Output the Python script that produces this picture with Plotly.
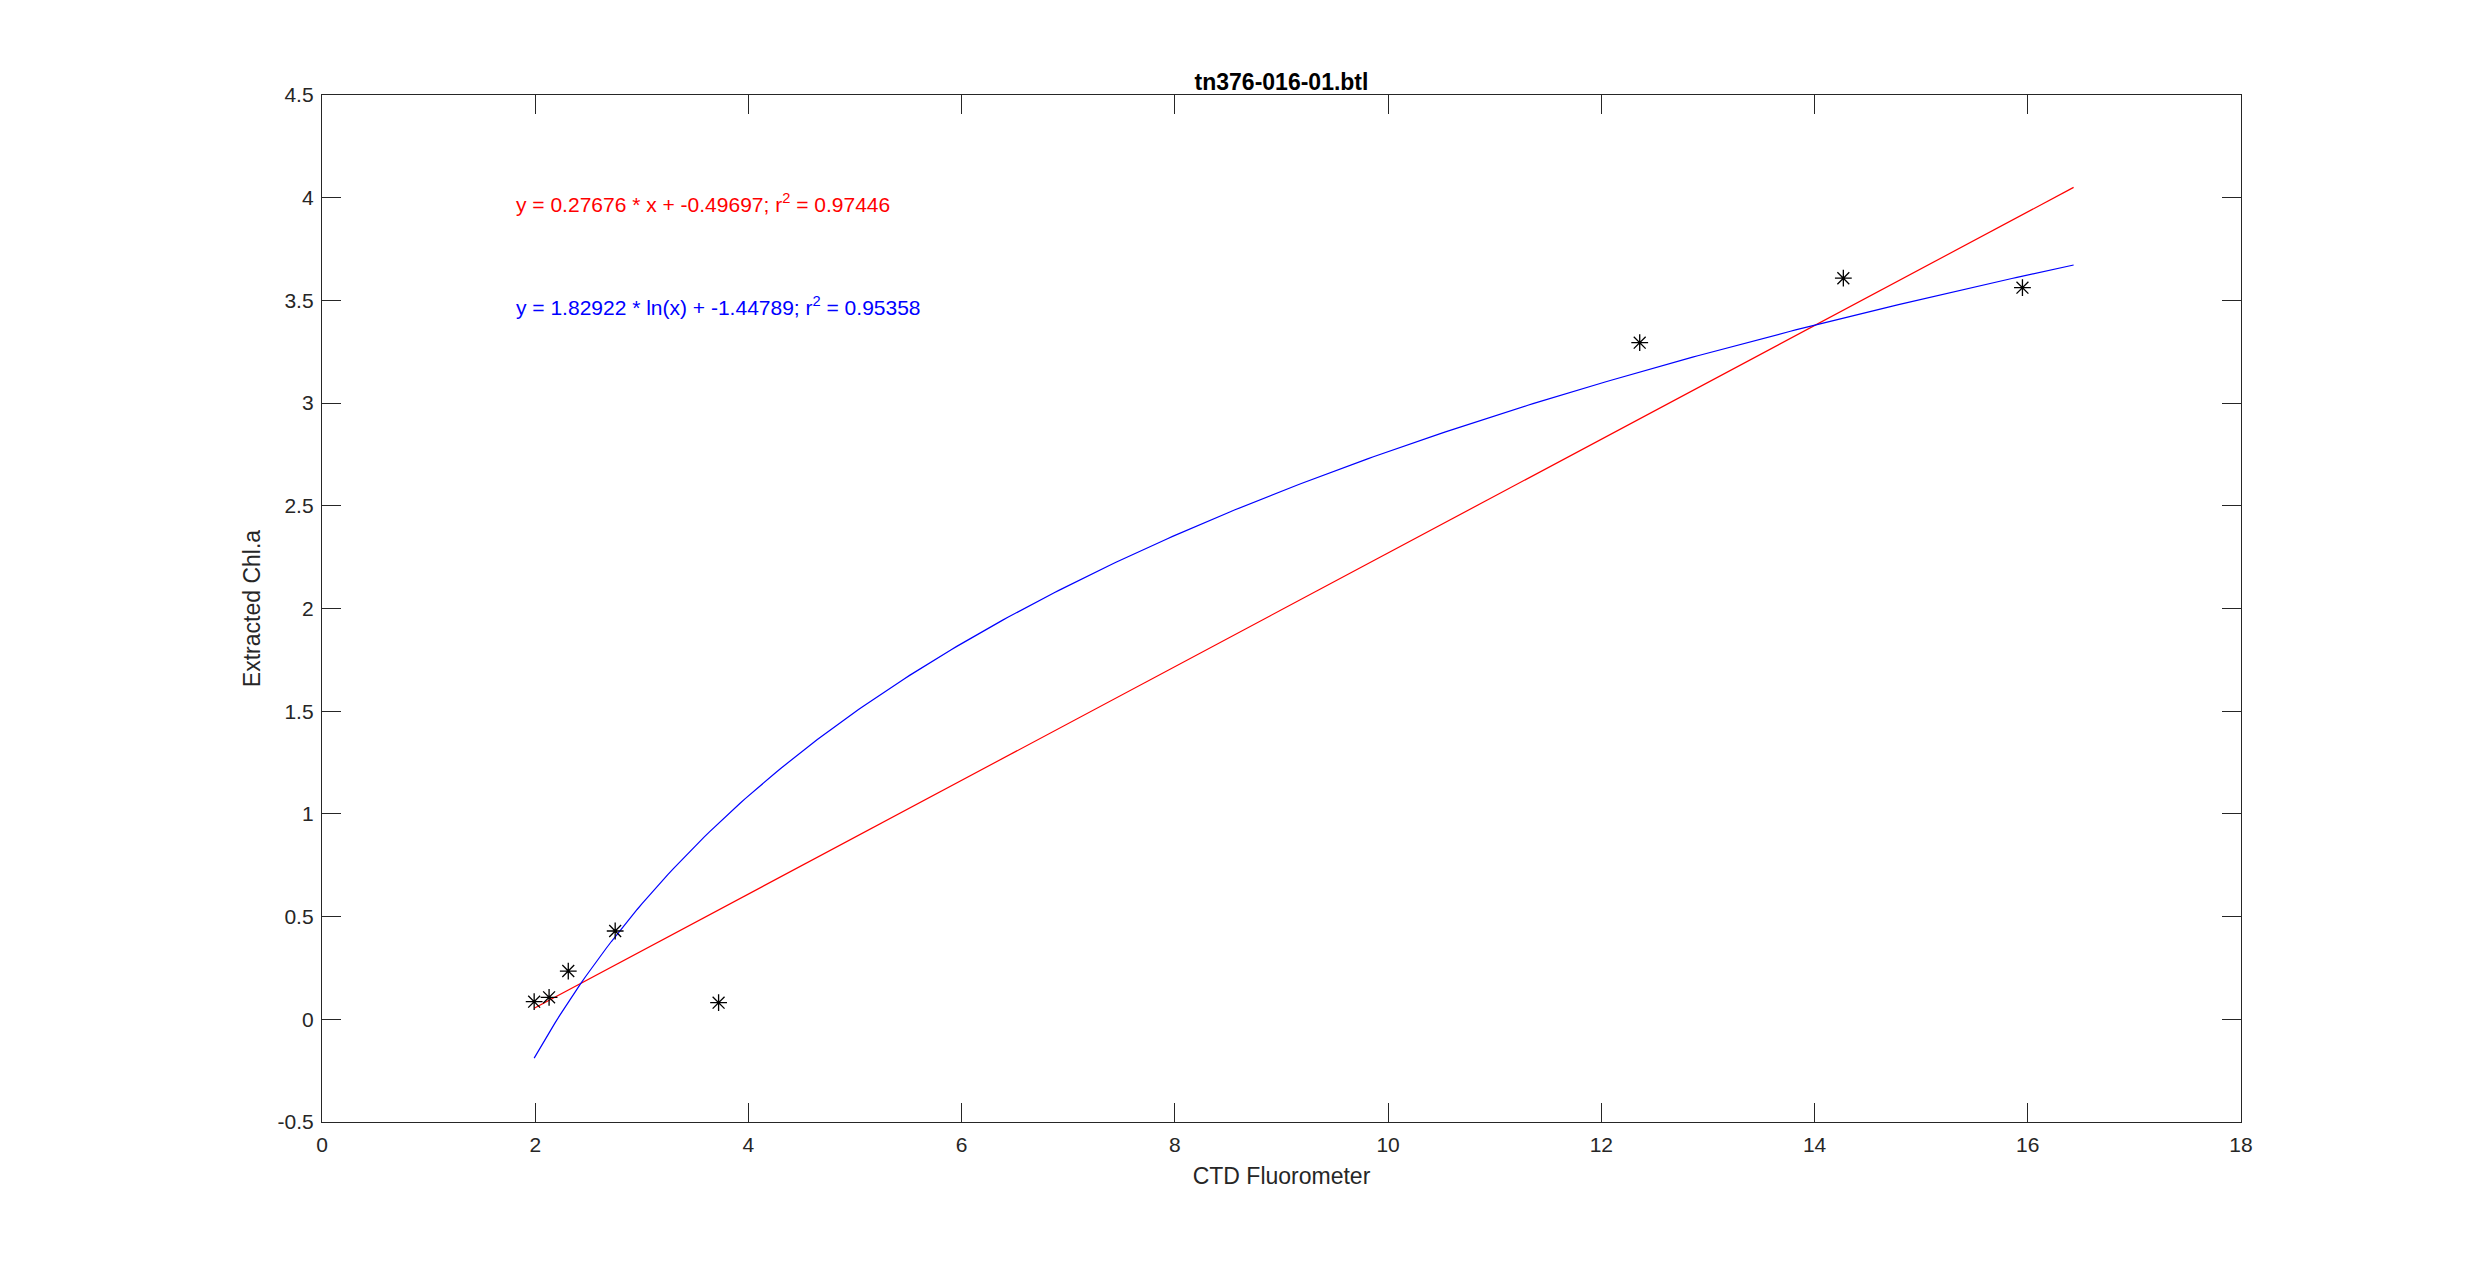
import numpy as np
import plotly.graph_objects as go

# Data
ctd_fluor = [1.99, 2.13, 2.31, 2.75, 3.72, 12.36, 14.27, 15.95]
extracted_chla = [0.086, 0.107, 0.235, 0.430, 0.081, 3.294, 3.608, 3.562]

# Fit coefficients shown on the chart
lin_slope, lin_intercept, lin_r2 = 0.27676, -0.49697, 0.97446
log_slope, log_intercept, log_r2 = 1.82922, -1.44789, 0.95358
fit_x_start = 1.99
fit_x_end = 16.43

x_ticks = [0, 2, 4, 6, 8, 10, 12, 14, 16, 18]
y_ticks = [-0.5, 0, 0.5, 1, 1.5, 2, 2.5, 3, 3.5, 4, 4.5]
y_tick_labels = ["-0.5", "0", "0.5", "1", "1.5", "2", "2.5", "3", "3.5", "4", "4.5"]

fx = np.linspace(fit_x_start, fit_x_end, 300)
lin_y = lin_slope * fx + lin_intercept
log_y = log_slope * np.log(fx) + log_intercept

FONT = "Liberation Sans, Arial, Helvetica, sans-serif"
AX = "#262626"

fig = go.Figure()
fig.add_trace(go.Scatter(x=fx, y=lin_y, mode="lines",
                         line=dict(color="#ff0000", width=1.2), showlegend=False))
fig.add_trace(go.Scatter(x=fx, y=log_y, mode="lines",
                         line=dict(color="#0000ff", width=1.2), showlegend=False))
fig.add_trace(go.Scatter(x=ctd_fluor, y=extracted_chla, mode="markers",
                         marker=dict(symbol="asterisk-open", size=14, color="black",
                                     line=dict(color="black", width=1.3)),
                         showlegend=False))

fig.add_annotation(x=1.80, y=3.975, xref="x", yref="y", xanchor="left", yanchor="middle",
                   showarrow=False,
                   text=f"y = {lin_slope} * x + {lin_intercept}; r<sup>2</sup> = {lin_r2}",
                   font=dict(family=FONT, size=21, color="#ff0000"))
fig.add_annotation(x=1.80, y=3.475, xref="x", yref="y", xanchor="left", yanchor="middle",
                   showarrow=False,
                   text=f"y = {log_slope} * ln(x) + {log_intercept}; r<sup>2</sup> = {log_r2}",
                   font=dict(family=FONT, size=21, color="#0000ff"))

# page body has an 8px margin, so the figure is offset by 8px
fig.update_layout(
    width=2459, height=1245,
    paper_bgcolor="white", plot_bgcolor="white",
    margin=dict(l=314, r=226, t=87, b=131),
    font=dict(family=FONT, size=21, color=AX),
    title=dict(text="<b>tn376-016-01.btl</b>", x=0.5, xref="paper", xanchor="center",
               y=1, yref="paper", yanchor="bottom", pad=dict(b=5),
               font=dict(family=FONT, size=23, color="black")),
)
fig.update_xaxes(range=[0, 18], tickvals=x_ticks, ticktext=[str(v) for v in x_ticks],
                 showgrid=False, zeroline=False, showline=True, linecolor=AX, linewidth=1.3,
                 mirror="ticks", ticks="inside", ticklen=19, tickcolor=AX, tickwidth=1.3,
                 ticklabelstandoff=4,
                 tickfont=dict(family=FONT, size=21, color=AX),
                 title=dict(text="CTD Fluorometer", standoff=12,
                            font=dict(family=FONT, size=23, color=AX)))
fig.update_yaxes(range=[-0.5, 4.5], tickvals=y_ticks, ticktext=y_tick_labels,
                 showgrid=False, zeroline=False, showline=True, linecolor=AX, linewidth=1.3,
                 mirror="ticks", ticks="inside", ticklen=19, tickcolor=AX, tickwidth=1.3,
                 ticklabelstandoff=3,
                 tickfont=dict(family=FONT, size=21, color=AX),
                 title=dict(text="Extracted Chl.a", standoff=10,
                            font=dict(family=FONT, size=23, color=AX)))

fig.write_html("out.html")
